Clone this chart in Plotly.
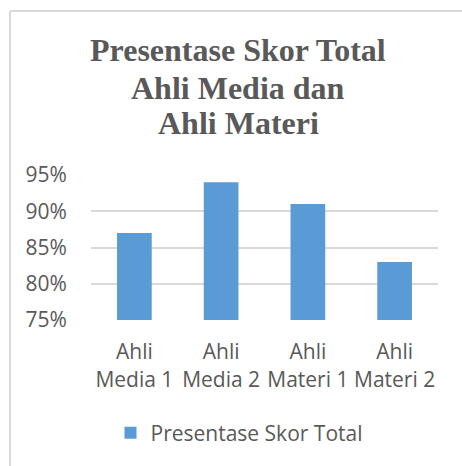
import plotly.graph_objects as go

categories = ["Ahli Media 1", "Ahli Media 2", "Ahli Materi 1", "Ahli Materi 2"]
values = [0.87, 0.94, 0.91, 0.83]
series_name = "Presentase Skor Total"
title_lines = ["Presentase Skor Total", "Ahli Media dan", "Ahli Materi"]
y_ticks = [0.75, 0.80, 0.85, 0.90, 0.95]

W, H = 462, 466
ML, MR, MT, MB = 91, 24, 175, 146
PW = W - ML - MR
PH = H - MT - MB

def px_x(px):
    return (px - ML) / PW

def px_y(py):
    return (H - MB - py) / PH

grey = "#595959"
grid = "#d9d9d9"

fig = go.Figure()
fig.add_trace(go.Bar(
    x=categories, y=values, name=series_name,
    marker=dict(color="#5B9BD5", line=dict(width=0)),
    showlegend=True,
))

ticktext = [c.replace(" ", "<br>", 1) for c in categories]

fig.update_layout(
    width=W, height=H,
    margin=dict(l=ML, r=MR, t=MT, b=MB, pad=0, autoexpand=False),
    paper_bgcolor="white", plot_bgcolor="white",
    bargap=0.6,
    font=dict(family="Open Sans", color=grey, size=21),
    showlegend=True,
    legend=dict(
        orientation="h", xref="container", yref="container",
        x=239 / W, xanchor="center", y=1 - 433 / H, yanchor="middle",
        font=dict(family="Open Sans", size=21, color=grey),
        itemwidth=30,
    ),
    xaxis=dict(
        tickmode="array", tickvals=categories, ticktext=ticktext,
        showgrid=False, showline=False, zeroline=False,
        ticks="outside", ticklen=13, tickcolor="rgba(0,0,0,0)",
        tickfont=dict(family="Open Sans", size=21, color=grey),
        automargin=False,
    ),
    yaxis=dict(
        range=[0.7499, 0.9501], tickmode="array", tickvals=y_ticks,
        tickformat=".0%", showgrid=True, gridcolor=grid, gridwidth=1.5,
        zeroline=False, showline=False,
        ticks="outside", ticklen=19, tickcolor="rgba(0,0,0,0)",
        tickfont=dict(family="Open Sans", size=21, color=grey),
        automargin=False,
    ),
)

title_centers = [50, 87.5, 123]
for line, cy in zip(title_lines, title_centers):
    fig.add_annotation(
        text="<b>" + line + "</b>", xref="paper", yref="paper",
        x=px_x(238), y=px_y(cy), xanchor="center", yanchor="middle",
        showarrow=False,
        font=dict(family="Liberation Serif", size=32, color=grey),
    )

# chart area border (left and top edges visible)
fig.add_shape(type="line", xref="paper", yref="paper",
              x0=px_x(10), x1=px_x(10), y0=px_y(11), y1=px_y(H + 5),
              line=dict(color=grid, width=2))
fig.add_shape(type="line", xref="paper", yref="paper",
              x0=px_x(10), x1=px_x(W + 5), y0=px_y(11), y1=px_y(11),
              line=dict(color=grid, width=2))

fig.write_html("out.html", config={"displayModeBar": False},
               post_script="document.body.style.margin='0';document.body.style.overflow='hidden';")
